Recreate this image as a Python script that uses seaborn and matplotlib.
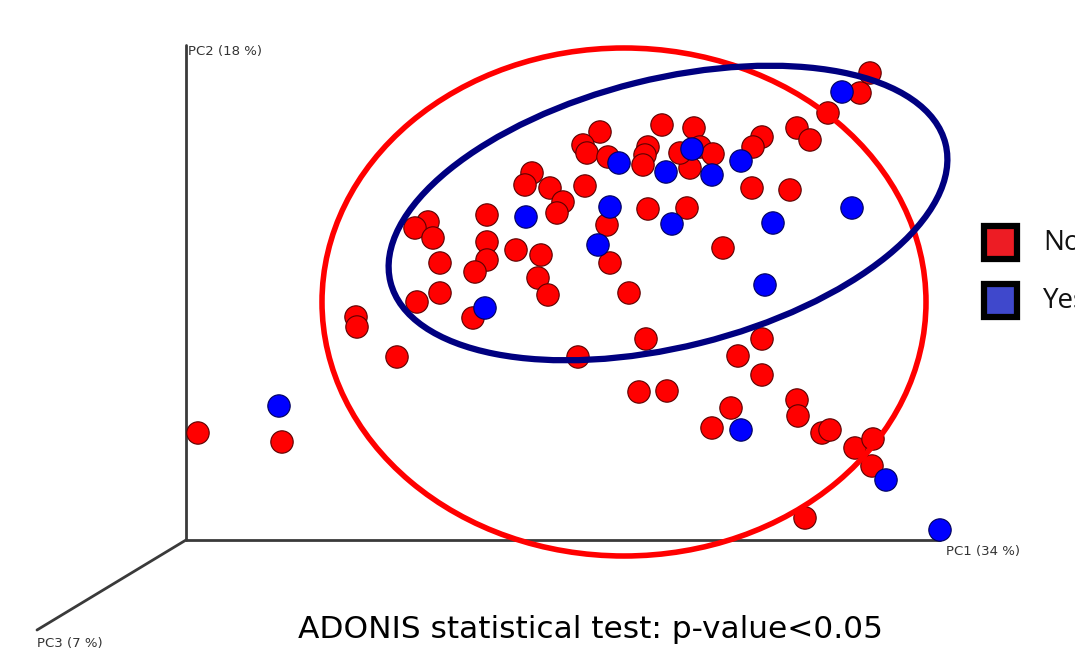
import numpy as np
import pandas as pd
import matplotlib
matplotlib.use("Agg")
import matplotlib.pyplot as plt
from matplotlib.patches import Ellipse, Rectangle
import seaborn as sns

# sample positions (pixel space of the 1075x650 figure)
no_x = [870, 860, 828, 797, 810, 762, 753, 694, 700, 713, 690, 680, 662, 648, 645,
        643, 600, 583, 587, 608, 752, 790, 687, 648, 585, 532, 525, 550, 563, 557,
        607, 610, 629, 723, 428, 415, 433, 487, 487, 487, 475, 440, 440, 417, 516,
        541, 538, 548, 473, 356, 357, 397, 578, 646, 639, 667, 762, 738, 762, 731,
        712, 797, 798, 822, 830, 855, 873, 872, 805, 198, 282]
no_y = [73, 93, 113, 128, 140, 137, 147, 128, 147, 154, 168, 153, 125, 147, 155,
        165, 132, 145, 153, 157, 188, 190, 208, 209, 186, 173, 185, 188, 202, 213,
        225, 263, 293, 248, 222, 228, 238, 215, 242, 260, 272, 263, 293, 302, 250,
        255, 278, 295, 318, 317, 327, 357, 357, 339, 392, 391, 339, 356, 375, 408,
        428, 400, 416, 433, 430, 448, 439, 466, 518, 433, 442]
yes_x = [842, 619, 666, 712, 741, 692, 526, 610, 672, 773, 852, 598, 765, 485, 279,
         741, 886, 940]
yes_y = [92, 163, 172, 175, 161, 149, 217, 207, 224, 223, 208, 245, 285, 308, 406,
         430, 480, 530]

groups = ["No", "Yes"]
group_colors = ["#ff0000", "#0000ff"]
legend_fill = ["#ed1c24", "#3f48cc"]

axis_labels = ["PC1 (34 %)", "PC2 (18 %)", "PC3 (7 %)"]
caption = "ADONIS statistical test: p-value<0.05"

df = pd.DataFrame({
    "x": no_x + yes_x,
    "y": no_y + yes_y,
    "group": ["No"] * len(no_x) + ["Yes"] * len(yes_x),
})

sns.set_style("white")
fig = plt.figure(figsize=(10.75, 6.5), dpi=100)
ax = fig.add_axes([0, 0, 1, 1])
ax.set_xlim(0, 1075)
ax.set_ylim(650, 0)
ax.axis("off")

# pseudo-3D axes
origin = (186, 540)
axc = "#3a3a3a"
ax.plot([origin[0], 940], [origin[1], origin[1]], color=axc, lw=2, zorder=1)
ax.plot([origin[0], origin[0]], [origin[1], 45], color=axc, lw=2, zorder=1)
ax.plot([origin[0], 37], [origin[1], 630], color=axc, lw=2, zorder=1)
lab_kw = dict(fontsize=9.5, color="#333333", va="center", family="DejaVu Sans")
ax.text(946, 552, axis_labels[0], **lab_kw)
ax.text(188, 52, axis_labels[1], **lab_kw)
ax.text(37, 644, axis_labels[2], **lab_kw)

sns.scatterplot(data=df, x="x", y="y", hue="group", hue_order=groups,
                palette=dict(zip(groups, group_colors)), s=260,
                edgecolor="#5a0000", linewidth=0.8, legend=False, ax=ax, zorder=3)
ax.collections[-1].set_edgecolors(
    ["#5a0000" if g == "No" else "#00005a" for g in df["group"]])

# group ellipses
ax.add_patch(Ellipse((624, 302), 604, 508, angle=0, fill=False,
                     edgecolor="#ff0000", lw=4, zorder=4))
ax.add_patch(Ellipse((668, 213), 572, 268, angle=-14, fill=False,
                     edgecolor="#000080", lw=4.5, zorder=5))

# legend (cut by the right edge like the original)
for i, (g, c) in enumerate(zip(groups, legend_fill)):
    y0 = 226 + i * 58
    ax.add_patch(Rectangle((984, y0), 33, 33, facecolor=c, edgecolor="black",
                           lw=4.5, zorder=6))
    ax.text(1043, y0 + 17, g, fontsize=20, va="center", family="Open Sans",
            color="#111111")

ax.text(590, 629, caption, fontsize=22.5, ha="center", va="center",
        family="DejaVu Sans", color="black")

fig.savefig("out.png", dpi=100)
